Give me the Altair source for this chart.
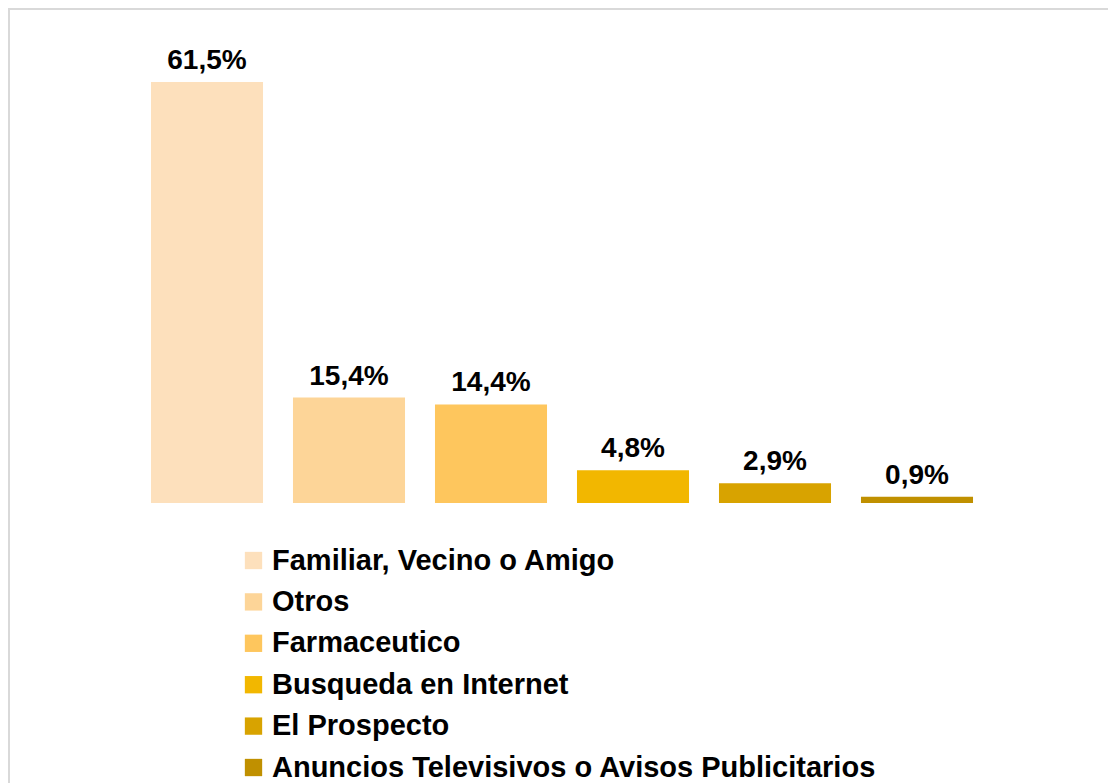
import altair as alt
import pandas as pd

categories = [
    "Familiar, Vecino o Amigo",
    "Otros",
    "Farmaceutico",
    "Busqueda en Internet",
    "El Prospecto",
    "Anuncios Televisivos o Avisos Publicitarios",
]
values = [61.5, 15.4, 14.4, 4.8, 2.9, 0.9]
labels = ["61,5%", "15,4%", "14,4%", "4,8%", "2,9%", "0,9%"]
colors = ["#FDE0BC", "#FDD598", "#FEC65D", "#F2B700", "#D8A300", "#C09000"]

df = pd.DataFrame({"cat": categories, "val": values, "lab": labels})

FONT = "Liberation Sans"

x = alt.X("cat:N", sort=categories, axis=None,
          scale=alt.Scale(paddingInner=0.211, paddingOuter=0.1055))
y = alt.Y("val:Q", axis=None, scale=alt.Scale(domain=[0, 65]))

bars = alt.Chart(df).mark_bar().encode(
    x=x, y=y,
    color=alt.Color(
        "cat:N",
        sort=categories,
        scale=alt.Scale(domain=categories, range=colors),
        legend=alt.Legend(
            title=None, orient="none", legendX=103, legendY=488,
            symbolType="square", symbolSize=300, symbolStrokeWidth=0,
            labelFont=FONT, labelFontSize=29, labelFontWeight="bold",
            labelColor="#000000", labelOffset=4, rowPadding=11.4,
            labelLimit=1000,
        ),
    ),
)

text = alt.Chart(df).mark_text(
    font=FONT, fontSize=28, fontWeight="bold", color="#000000",
    baseline="alphabetic", dy=-13,
).encode(x=x, y=y, text="lab:N")

frame_df = pd.DataFrame({"k": [0]})
top_line = alt.Chart(frame_df).mark_rule(color="#D9D9D9", strokeWidth=2).encode(
    x=alt.value(-128), x2=alt.value(1000), y=alt.value(-49)
)
left_line = alt.Chart(frame_df).mark_rule(color="#D9D9D9", strokeWidth=2).encode(
    x=alt.value(-127), y=alt.value(-50), y2=alt.value(800)
)

chart = alt.layer(top_line, left_line, bars, text).properties(
    width=852, height=445,
    autosize=alt.AutoSizeParams(type="none"),
    padding={"left": 128, "top": 50, "right": 120, "bottom": 280},
    background="#FFFFFF",
).configure_view(stroke=None)

chart.save("out.html", embed_options={"renderer": "svg", "actions": False})
